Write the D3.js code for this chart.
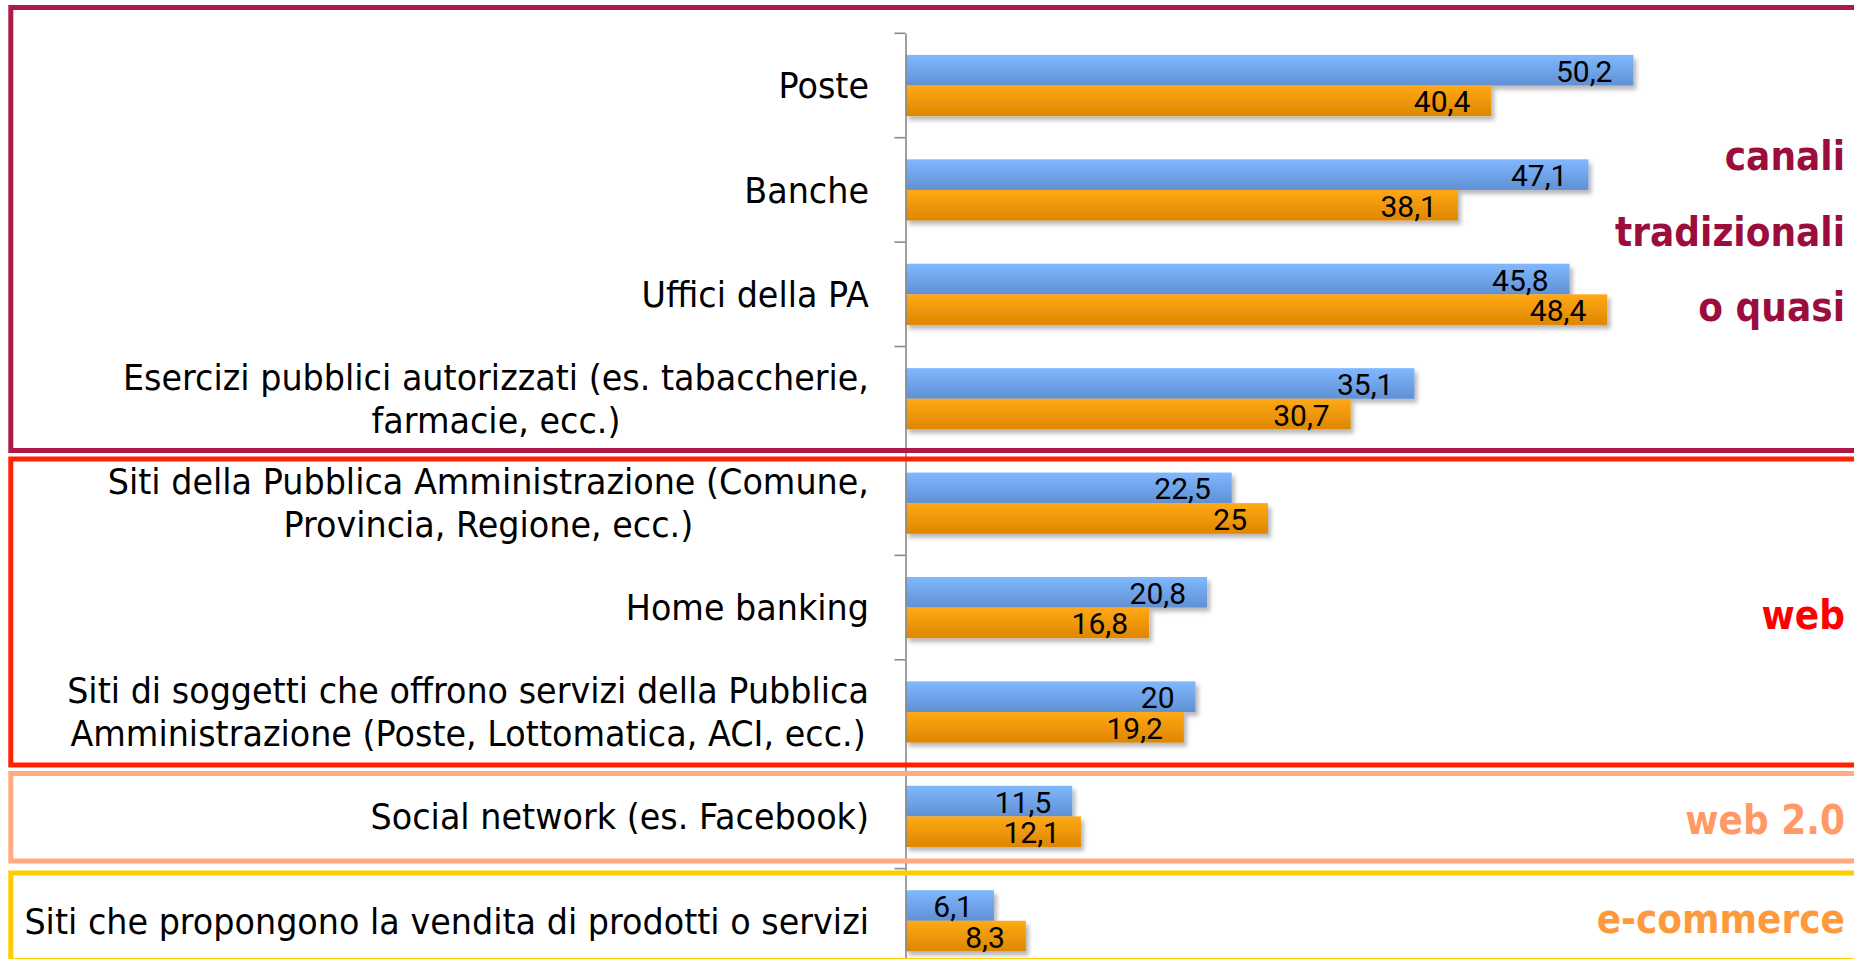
<!DOCTYPE html>
<html><head><meta charset="utf-8">
<script src="https://cdn.jsdelivr.net/npm/d3@7"></script>
<style>html,body{margin:0;padding:0;background:#fff;overflow:hidden}</style>
</head><body>
<svg id="chart" width="1854" height="959"></svg>
<script>
// ---------- data ----------
const categories = [
  "Poste",
  "Banche",
  "Uffici della PA",
  "Esercizi pubblici autorizzati (es. tabaccherie,\nfarmacie, ecc.)",
  "Siti della Pubblica Amministrazione (Comune,\nProvincia, Regione, ecc.)",
  "Home banking",
  "Siti di soggetti che offrono servizi della Pubblica\nAmministrazione (Poste, Lottomatica, ACI, ecc.)",
  "Social network (es. Facebook)",
  "Siti che propongono la vendita di prodotti o servizi"
];
const seriesNames = ["serie1", "serie2"];
const serie1 = [50.2, 47.1, 45.8, 35.1, 22.5, 20.8, 20, 11.5, 6.1];
const serie2 = [40.4, 38.1, 48.4, 30.7, 25, 16.8, 19.2, 12.1, 8.3];
const groupLabels = [["canali", "tradizionali", "o quasi"], ["web"], ["web 2.0"], ["e-commerce"]];
const xDomain = [0, 65];

// ---------- style / layout ----------
const W = 1854, H = 959;
const axisX = 905.5, xRight = 1848;
const bandTop = 33.3, bandBottom = 973;
const groupColors = ["#AD1A45", "#FF2200", "#FFAA80", "#FFCC00"];
const groupTextColors = ["#9B0D3C", "#FF0000", "#FF9A66", "#FF9A3C"];
const frameY = [[7.5, 450.5], [459, 765], [773.5, 861], [873, 960.5]];
const frameX = 10.8;
const squeezeCat = 0.955, squeezeGroup = 0.9;

const svg = d3.select("#chart");
const defs = svg.append("defs");
function grad(id, c1, c2) {
  const g = defs.append("linearGradient").attr("id", id).attr("x1", 0).attr("y1", 0).attr("x2", 0).attr("y2", 1);
  g.append("stop").attr("offset", "0%").attr("stop-color", c1);
  g.append("stop").attr("offset", "100%").attr("stop-color", c2);
}
grad("gBlue", "#80B8FF", "#6090D4");
grad("gOrange", "#FFA915", "#DE8600");
const f = defs.append("filter").attr("id", "shadow").attr("x", "-5%").attr("y", "-20%").attr("width", "115%").attr("height", "160%");
f.append("feDropShadow").attr("dx", 3).attr("dy", 4).attr("stdDeviation", 2.2).attr("flood-color", "#000").attr("flood-opacity", 0.28);

// scales
const x = d3.scaleLinear().domain(xDomain).range([axisX, xRight]);
const yCat = d3.scaleBand().domain(d3.range(categories.length)).range([bandTop, bandBottom]).padding(0);
const yBar = d3.scaleBand().domain(d3.range(categories.length)).range([bandTop, bandBottom])
  .paddingInner(0.414).paddingOuter(0.207);
const ySub = d3.scaleBand().domain(seriesNames).range([0, yBar.bandwidth()]);
const step = yCat.step();

// bars
const rows = categories.map((c, i) => ({i, vals: [serie1[i], serie2[i]]}));
const gBars = svg.append("g");
rows.forEach(r => {
  r.vals.forEach((v, k) => {
    gBars.append("rect")
      .attr("x", x(0))
      .attr("y", yBar(r.i) + ySub(seriesNames[k]))
      .attr("width", x(v) - x(0))
      .attr("height", ySub.bandwidth())
      .attr("fill", k === 0 ? "url(#gBlue)" : "url(#gOrange)")
      .attr("filter", "url(#shadow)");
  });
});
// value labels
const fmt = v => String(v).replace(".", ",");
rows.forEach(r => {
  r.vals.forEach((v, k) => {
    gBars.append("text")
      .attr("x", x(v) - 21)
      .attr("y", yBar(r.i) + ySub(seriesNames[k]) + ySub.bandwidth() / 2 + 11.5)
      .attr("text-anchor", "end")
      .attr("font-family", "Roboto, 'Liberation Sans', sans-serif")
      .attr("font-size", 30)
      .attr("fill", "#000")
      .text(fmt(v));
  });
});

// axis line and ticks at band boundaries
const axisG = svg.append("g").attr("transform", `translate(${axisX},0)`);
const axis = d3.axisLeft(d3.scaleLinear().domain([0, 1]).range([bandTop, bandBottom])).ticks(0).tickSize(0).tickSizeOuter(0);
axisG.call(axis);
axisG.select(".domain").attr("stroke", "#8A8A8A").attr("stroke-width", 1.6);
const bounds = d3.range(categories.length).map(i => yCat(i));
axisG.selectAll("line.tk").data(bounds).join("line").attr("class", "tk")
  .attr("x1", -11).attr("x2", 0).attr("y1", d => d).attr("y2", d => d)
  .attr("stroke", "#8A8A8A").attr("stroke-width", 1.6);

// category labels (centered block, right-aligned)
const labelRight = 869, lineH = 43;
categories.forEach((c, i) => {
  const lines = c.split("\n");
  const cy = yCat(i) + step / 2;
  const g = svg.append("g");
  const texts = lines.map((ln, j) => g.append("text")
    .attr("font-family", "'DejaVu Sans', sans-serif")
    .attr("font-size", 35)
    .attr("fill", "#000")
    .attr("text-anchor", "middle")
    .text(ln));
  const widths = texts.map(t => t.node().getComputedTextLength() * squeezeCat);
  const maxW = d3.max(widths);
  const cx = labelRight - maxW / 2;
  texts.forEach((t, j) => {
    const base = cy + 12.8 + (j - (lines.length - 1) / 2) * lineH;
    t.attr("transform", `translate(${cx},${base}) scale(${squeezeCat},1)`);
  });
});

// group frames
groupLabels.forEach((lbls, gi) => {
  const [y0, y1] = frameY[gi];
  svg.append("rect")
    .attr("x", frameX).attr("y", y0)
    .attr("width", W + 20).attr("height", y1 - y0)
    .attr("fill", "none")
    .attr("stroke", groupColors[gi])
    .attr("stroke-width", 5);
  const cy = (y0 + Math.min(y1, 960)) / 2;
  lbls.forEach((t, j) => {
    const base = cy + 16.6 + (j - (lbls.length - 1) / 2) * 75.5;
    svg.append("text")
      .attr("transform", `translate(1845,${base}) scale(${squeezeGroup},1)`)
      .attr("text-anchor", "end")
      .attr("font-family", "'DejaVu Sans', sans-serif")
      .attr("font-weight", "bold")
      .attr("font-size", 40)
      .attr("fill", groupTextColors[gi])
      .text(t);
  });
});
</script>
</body></html>
